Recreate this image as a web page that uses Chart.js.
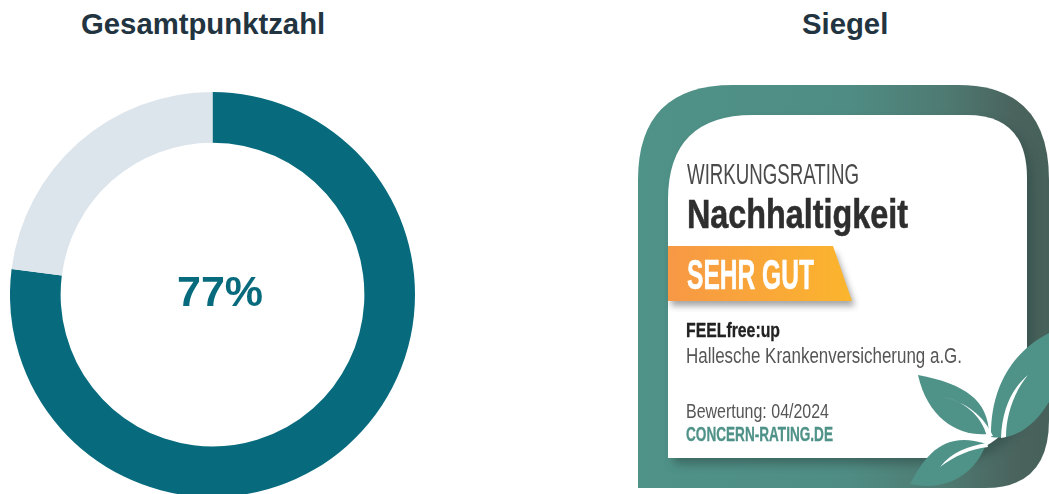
<!DOCTYPE html>
<html lang="de">
<head>
<meta charset="utf-8">
<title>Gesamtpunktzahl</title>
<script src="https://cdn.jsdelivr.net/npm/chart.js@4/dist/chart.umd.min.js"></script>
<style>
    html, body { margin: 0; padding: 0; background: #fff; }
    body { position: relative; width: 1049px; height: 494px; overflow: hidden; font-family: "Liberation Sans", sans-serif; }
    .heading { position: absolute; top: 8px; font-size: 29.3px; line-height: 32px; font-weight: bold; color: #22343f; white-space: nowrap; }
    #scoreHeading { left: 81px; }
    #sealHeading { left: 802px; }
    #chartBox { position: absolute; left: 10px; top: 92px; width: 405px; height: 405px; }
    #score { position: absolute; left: 177px; top: 266px; font-size: 43px; line-height: 50px; font-weight: bold; color: #076b7d; }
    #seal { position: absolute; left: 0; top: 0; }
    #seal text { font-family: "Liberation Sans Narrow", "Liberation Sans", sans-serif; }
</style>
</head>
<body>
<div class="heading" id="scoreHeading">Gesamtpunktzahl</div>
<div class="heading" id="sealHeading">Siegel</div>
<div id="chartBox"><canvas id="chart" width="405" height="405"></canvas></div>
<div id="score">77%</div>

<svg id="seal" width="1049" height="494" viewBox="0 0 1049 494">
    <defs>
        <linearGradient id="frameFill" x1="638" x2="1049" y1="0" y2="0" gradientUnits="userSpaceOnUse">
            <stop offset="0" stop-color="#4f9288"/>
            <stop offset="0.5" stop-color="#4f8d84"/>
            <stop offset="0.75" stop-color="#4e7a72"/>
            <stop offset="0.92" stop-color="#4a635d"/>
            <stop offset="1" stop-color="#46605a"/>
        </linearGradient>
        <linearGradient id="bannerFill" x1="668" x2="852" y1="0" y2="0" gradientUnits="userSpaceOnUse">
            <stop offset="0" stop-color="#f79845"/>
            <stop offset="1" stop-color="#fbb52d"/>
        </linearGradient>
        <filter id="softShadow" x="-20%" y="-20%" width="140%" height="140%">
            <feGaussianBlur stdDeviation="5"/>
        </filter>
        <filter id="bannerShadow" x="-20%" y="-40%" width="140%" height="180%">
            <feGaussianBlur stdDeviation="3"/>
        </filter>
    </defs>
    <path d="M638 180 Q638 85 733 85 H958 Q1049 85 1049 180 V420 Q1049 488 985 488 H638 Z" fill="url(#frameFill)"/>
    <path d="M668 200 Q668 115 753 115 H967 Q1027 115 1027 178 V360 Q1027 458 930 458 H668 Z" fill="#2f4a45" opacity="0.55" filter="url(#softShadow)" transform="translate(6 6)"/>
    <path d="M668 200 Q668 115 753 115 H967 Q1027 115 1027 178 V360 Q1027 458 930 458 H668 Z" fill="#fff"/>

    <path d="M668 248 H833 L852 301 H668 Z" fill="#6b6b6b" opacity="0.6" filter="url(#bannerShadow)" transform="translate(3 5)"/>
    <path d="M668 246 H833 L852 301 H668 Z" fill="url(#bannerFill)"/>

    <text x="687" y="184" font-size="29" fill="#4a4a4a" textLength="172" lengthAdjust="spacingAndGlyphs">WIRKUNGSRATING</text>
    <text x="687" y="228" font-size="41" font-weight="bold" fill="#2e2e2e" stroke="#2e2e2e" stroke-width="0.6" textLength="221" lengthAdjust="spacingAndGlyphs">Nachhaltigkeit</text>
    <text x="687" y="289" font-size="42" font-weight="bold" fill="#fff" stroke="#fff" stroke-width="0.6" textLength="127" lengthAdjust="spacingAndGlyphs">SEHR GUT</text>
    <text x="686" y="337" font-size="21" font-weight="bold" fill="#222" stroke="#222" stroke-width="0.3" textLength="94" lengthAdjust="spacingAndGlyphs">FEELfree:up</text>
    <text x="686" y="363" font-size="22" fill="#555" textLength="276" lengthAdjust="spacingAndGlyphs">Hallesche Krankenversicherung a.G.</text>
    <text x="686" y="418" font-size="21" fill="#555" textLength="143" lengthAdjust="spacingAndGlyphs">Bewertung: 04/2024</text>
    <text x="686" y="441" font-size="21" font-weight="bold" fill="#4f9288" stroke="#4f9288" stroke-width="0.3" textLength="147" lengthAdjust="spacingAndGlyphs">CONCERN-RATING.DE</text>

    <path d="M1049 333 C1015 350 990 385 991 437 C1015 441 1035 425 1049 402 Z" fill="#4f9288"/>
    <path d="M918 375 C965 384 988 400 989 434 C960 437 928 420 918 375 Z" fill="#4f9288"/>
    <path d="M910 484 C925 455 945 430 986 444 C975 475 945 492 910 484 Z" fill="#4f9288"/>
    <path d="M1028 375 C1010 390 1002 412 1001 438 L1006 437 C1006 415 1014 392 1028 375 Z" fill="#fff"/>
    <path d="M943 397 C962 400 982 415 987 437 L993 436 C984 416 966 402 943 397 Z" fill="#fff"/>
    <path d="M940 467 C952 452 968 446 987 443 L988 447 C970 449 955 456 940 467 Z" fill="#fff"/>
</svg>

<script>
const scoreLabels = ['Punkte', 'Rest'];
const scoreValues = [77, 23];
const scoreColors = ['#076b7d', '#dde5ec'];

function buildScoreChart() {
    const chartCtx = document.getElementById('chart').getContext('2d');

    return new Chart(chartCtx, {
        type: 'doughnut',
        data: {
            labels: scoreLabels,
            datasets: [{
                data: scoreValues,
                backgroundColor: scoreColors,
                borderWidth: 0
            }]
        },
        options: {
            responsive: false,
            animation: false,
            cutout: '75%',
            plugins: {
                legend: { display: false },
                tooltip: { enabled: false }
            }
        }
    });
}

buildScoreChart();
</script>
</body>
</html>
